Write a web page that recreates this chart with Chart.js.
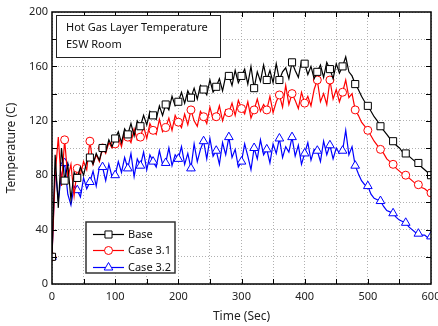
<!DOCTYPE html>
<html>
<head>
<meta charset="utf-8">
<script src="https://cdn.jsdelivr.net/npm/chart.js@4"></script>
<style>
  body { margin: 0; background: #fff; }
  #wrap { width: 438px; height: 326px; }
</style>
</head>
<body>
<div id="wrap"><canvas id="chart"></canvas></div>
<script>
const times = [
  0, 5, 10, 15, 20, 25, 30, 35, 40, 45, 50, 55, 60, 65, 70, 75, 80, 85, 90, 95,
  100, 105, 110, 115, 120, 125, 130, 135, 140, 145, 150, 155, 160, 165, 170, 175, 180, 185, 190, 195,
  200, 205, 210, 215, 220, 225, 230, 235, 240, 245, 250, 255, 260, 265, 270, 275, 280, 285, 290, 295,
  300, 305, 310, 315, 320, 325, 330, 335, 340, 345, 350, 355, 360, 365, 370, 375, 380, 385, 390, 395,
  400, 405, 410, 415, 420, 425, 430, 435, 440, 445, 450, 455, 460, 465, 470, 475, 480, 485, 490, 495,
  500, 505, 510, 515, 520, 525, 530, 535, 540, 545, 550, 555, 560, 565, 570, 575, 580, 585, 590, 595, 600
];

const base = [
  20, 95, 56, 100, 76, 88, 62, 82, 78, 86, 80, 90, 93, 88, 96, 91, 100, 97, 106, 101,
  107, 112, 104, 114, 110, 118, 109, 120, 116, 124, 117, 127, 124, 121, 131, 124, 132, 128, 138, 131,
  134, 141, 133, 142, 137, 144, 136, 146, 143, 139, 150, 141, 145, 151, 142, 153, 153, 146, 157, 148,
  153, 158, 147, 160, 144, 156, 149, 161, 150, 157, 148, 162, 150, 156, 159, 151, 163, 157, 152, 164,
  162, 154, 160, 151, 156, 161, 152, 163, 158, 151, 162, 155, 160, 167, 156, 153, 147, 143, 138, 134,
  131, 127, 123, 120, 116, 113, 110, 107, 105, 102, 100, 97, 96, 94, 92, 90, 89, 86, 84, 82, 80
];

const case31 = [
  20, 80, 108, 72, 106, 78, 88, 65, 85, 80, 90, 84, 105, 88, 95, 90, 100, 96, 104, 100,
  103, 108, 101, 112, 108, 104, 114, 106, 108, 116, 107, 118, 113, 110, 121, 112, 115, 122, 113, 124,
  119, 115, 125, 117, 128, 120, 116, 127, 123, 118, 130, 121, 123, 131, 120, 128, 126, 133, 124, 135,
  129, 125, 134, 122, 128, 136, 127, 132, 128, 138, 126, 134, 139, 130, 146, 132, 140, 135, 129, 141,
  133, 138, 131, 143, 150, 134, 140, 132, 150, 136, 143, 134, 141, 150, 137, 140, 128, 124, 119, 116,
  113, 109, 105, 102, 99, 96, 92, 90, 88, 85, 83, 81, 80, 78, 76, 74, 73, 71, 70, 68, 67
];

const case32 = [
  20, 85, 62, 80, 89, 66, 58, 72, 69, 64, 78, 70, 75, 83, 72, 86, 86, 76, 88, 79,
  80, 90, 82, 93, 85, 96, 79, 92, 87, 97, 84, 95, 90, 86, 98, 88, 89, 100, 87, 95,
  92, 101, 88, 96, 85, 103, 90, 99, 105, 92, 107, 94, 98, 88, 104, 95, 108, 93, 99, 86,
  90, 103, 94, 84, 100, 92, 106, 95, 99, 89, 103, 96, 107, 93, 101, 97, 108, 94, 102, 88,
  96, 104, 91, 99, 98, 90, 105, 95, 102, 92, 100, 96, 98, 113, 95, 101, 87, 81, 76, 73,
  72, 66, 63, 62, 61, 57, 54, 53, 52, 49, 47, 46, 45, 42, 40, 38, 37, 36, 36, 34, 35
];

const seriesNames = ["Base", "Case 3.1", "Case 3.2"];
const seriesColors = ["#000000", "#ff0000", "#0000ff"];
const seriesMarkers = ["rect", "circle", "triangle"];
const markerSizes = [5, 4, 5];

const xTickLabels = [0, 100, 200, 300, 400, 500, 600];
const yTickLabels = [0, 40, 80, 120, 160, 200];

const FONT = "'Noto Sans', 'DejaVu Sans', sans-serif";

function toPoints(values) {
  return times.map((t, i) => ({ x: t, y: values[i] }));
}

const datasets = [base, case31, case32].map((vals, k) => ({
  label: seriesNames[k],
  data: toPoints(vals),
  borderColor: seriesColors[k],
  backgroundColor: "#ffffff",
  borderWidth: 1.2,
  pointStyle: seriesMarkers[k],
  pointBorderWidth: 1,
  pointRadius: c => (times[c.dataIndex] % 20 === 0 ? markerSizes[k] : 0),
  pointBackgroundColor: "#ffffff",
  pointBorderColor: seriesColors[k],
  tension: 0
}));

// frame, inner ticks, text box and legend box
const decorations = {
  id: "decorations",
  afterDraw(chart) {
    const { ctx, chartArea: a, scales } = chart;
    const x = scales.x, y = scales.y;
    ctx.save();
    ctx.strokeStyle = "#000";
    ctx.lineWidth = 1;
    ctx.beginPath();
    for (let v = 50; v < 600; v += 50) {
      const px = Math.round(x.getPixelForValue(v)) + 0.5;
      ctx.moveTo(px, a.bottom); ctx.lineTo(px, a.bottom - 5);
      ctx.moveTo(px, a.top); ctx.lineTo(px, a.top + 5);
    }
    for (let v = 20; v < 200; v += 20) {
      const py = Math.round(y.getPixelForValue(v)) + 0.5;
      ctx.moveTo(a.left, py); ctx.lineTo(a.left + 5, py);
      ctx.moveTo(a.right, py); ctx.lineTo(a.right - 5, py);
    }
    ctx.stroke();
    ctx.lineWidth = 1.5;
    ctx.strokeRect(a.left, a.top, a.right - a.left, a.bottom - a.top);

    // text box
    ctx.fillStyle = "#fff";
    ctx.fillRect(56, 15, 164, 42);
    ctx.strokeStyle = "#222";
    ctx.lineWidth = 1;
    ctx.strokeRect(56.5, 15.5, 164, 42);
    ctx.fillStyle = "#111";
    ctx.font = "11px " + FONT;
    ctx.textBaseline = "middle";
    ctx.textAlign = "left";
    ctx.fillText("Hot Gas Layer Temperature", 66, 28);
    ctx.fillText("ESW Room", 66, 45);

    // legend box
    ctx.fillStyle = "#fff";
    ctx.fillRect(86, 222, 89, 51);
    ctx.strokeStyle = "#333";
    ctx.lineWidth = 1.5;
    ctx.strokeRect(86, 222, 89, 51);
    const rows = [234, 250, 267];
    chart.data.datasets.forEach((ds, k) => {
      const ry = rows[k];
      ctx.strokeStyle = seriesColors[k];
      ctx.lineWidth = 1.2;
      ctx.beginPath();
      ctx.moveTo(93, ry + 0.5); ctx.lineTo(124, ry + 0.5);
      ctx.stroke();
      ctx.fillStyle = "#fff";
      ctx.lineWidth = 1;
      Chart.helpers.drawPoint(ctx, {
        pointStyle: seriesMarkers[k], radius: markerSizes[k], borderWidth: 1, rotation: 0
      }, 108.5, ry + 0.5);
      ctx.fillStyle = "#111";
      ctx.font = "11px " + FONT;
      ctx.fillText(ds.label, 128, ry + 1);
    });
    ctx.restore();
  }
};

new Chart(document.getElementById("chart"), {
  type: "line",
  data: { datasets: datasets },
  options: {
    responsive: true,
    maintainAspectRatio: false,
    animation: false,
    layout: { padding: { top: 12, right: 7, left: 0, bottom: 0 } },
    plugins: {
      legend: { display: false },
      tooltip: { enabled: false }
    },
    scales: {
      x: {
        type: "linear",
        min: 0,
        max: 600,
        afterFit: s => { s.height = 42; s.paddingLeft = 0; s.paddingRight = 0; },
        grid: { color: "#b0b0b0", borderDash: [1, 2], drawTicks: false, lineWidth: 1 },
        border: { display: false, dash: [1, 2] },
        ticks: {
          stepSize: 50,
          padding: 6,
          color: "#222",
          font: { family: FONT, size: 11 },
          maxRotation: 0,
          callback: v => (xTickLabels.includes(v) ? String(v) : "")
        },
        title: {
          display: true,
          text: "Time (Sec)",
          color: "#222",
          font: { family: FONT, size: 12 },
          padding: { top: 0, bottom: 2 }
        }
      },
      y: {
        min: 0,
        max: 200,
        afterFit: s => { s.width = 52; s.paddingTop = 0; s.paddingBottom = 0; },
        grid: { color: "#b0b0b0", borderDash: [1, 2], drawTicks: false, lineWidth: 1 },
        border: { display: false, dash: [1, 2] },
        ticks: {
          stepSize: 20,
          padding: 4,
          color: "#222",
          font: { family: FONT, size: 11 },
          callback: v => (yTickLabels.includes(v) ? String(v) : "")
        },
        title: {
          display: true,
          text: "Temperature (C)",
          color: "#222",
          font: { family: FONT, size: 12 },
          padding: { top: 4, bottom: 0 }
        }
      }
    }
  },
  plugins: [decorations]
});
</script>
</body>
</html>
